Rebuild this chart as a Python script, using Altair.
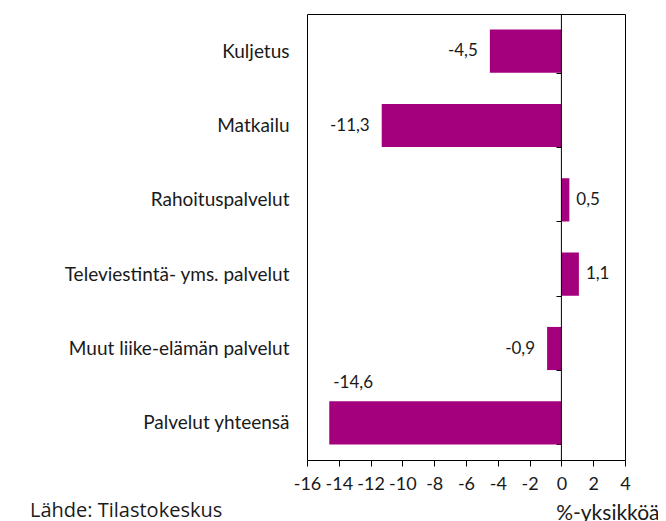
import altair as alt
import pandas as pd

categories = ["Kuljetus", "Matkailu", "Rahoituspalvelut",
              "Televiestintä- yms. palvelut", "Muut liike-elämän palvelut",
              "Palvelut yhteensä"]
values = [-4.5, -11.3, 0.5, 1.1, -0.9, -14.6]
x_ticks = [-16, -14, -12, -10, -8, -6, -4, -2, 0, 2, 4]

df = pd.DataFrame({"cat": categories, "value": values})
FONT = "Lato"
COLOR = "#a4007e"
TXT = "#1a1a1a"

xscale = alt.Scale(domain=[-16, 4], nice=False, zero=False)
yscale = alt.Scale(paddingInner=0.42, paddingOuter=0.21)

y_axis = alt.Axis(title=None, domain=False, ticks=True, tickBand="extent",
                  tickSize=5, tickColor="black", offset=-254,
                  labelPadding=267, labelFontSize=19, labelFont=FONT,
                  labelLimit=400, labelColor=TXT, grid=False)
x_axis = alt.Axis(values=x_ticks, title="%-yksikköä", grid=False, domain=False,
                  tickSize=6, tickColor="black", labelPadding=9,
                  labelFontSize=18, labelFont=FONT, labelColor=TXT,
                  labelOverlap=False, labelFlush=False,
                  labelExpr="'' + datum.value",
                  titleFont=FONT, titleFontSize=21, titleFontWeight="normal",
                  titleColor=TXT, titleAnchor="end", titleAlign="right",
                  titleBaseline="alphabetic", titleX=352, titleY=59)

x_enc = alt.X("value:Q", scale=xscale, axis=x_axis)
y_enc = alt.Y("cat:N", sort=categories, scale=yscale, axis=y_axis)

base = alt.Chart(df).transform_calculate(
    lbl="replace(toString(datum.value), '.', ',')")

bars = base.mark_bar(color=COLOR).encode(x=x_enc, y=y_enc)

neg = base.mark_text(align="right", baseline="middle", dx=-12, font=FONT,
                     fontSize=17, color=TXT).encode(
    x=x_enc, y=y_enc, text="lbl:N"
).transform_filter("datum.value < 0 && datum.value > -14")

pos = base.mark_text(align="left", baseline="middle", dx=7, font=FONT,
                     fontSize=17, color=TXT).encode(
    x=x_enc, y=y_enc, text="lbl:N"
).transform_filter("datum.value >= 0")

big = base.mark_text(align="left", baseline="middle", dx=4, dy=-40, font=FONT,
                     fontSize=17, color=TXT).encode(
    x=x_enc, y=y_enc, text="lbl:N"
).transform_filter("datum.value <= -14")

zero = alt.Chart(pd.DataFrame({"value": [0]})).mark_rule(
    color="black", strokeWidth=1).encode(x=x_enc)

frame = alt.Chart(pd.DataFrame({"f": [1]})).mark_rect(
    fill="transparent", stroke="black", strokeWidth=1).encode(
    x=alt.value(0.5), x2=alt.value(318.5), y=alt.value(0.5), y2=alt.value(446.5))

source = alt.Chart(pd.DataFrame({"t": ["Lähde: Tilastokeskus"]})).mark_text(
    align="left", baseline="alphabetic", font="Open Sans", fontSize=20, color=TXT
).encode(x=alt.value(-277), y=alt.value(446 + 57), text="t:N")

chart = alt.layer(bars, neg, pos, big, zero, frame, source).properties(
    width=318, height=446,
    background="white",
    autosize=alt.AutoSizeParams(type="none"),
    padding={"left": 299, "top": 6, "right": 33, "bottom": 61},
).configure_view(strokeWidth=0)

chart.save("out.html", embed_options={"renderer": "svg", "actions": False})
